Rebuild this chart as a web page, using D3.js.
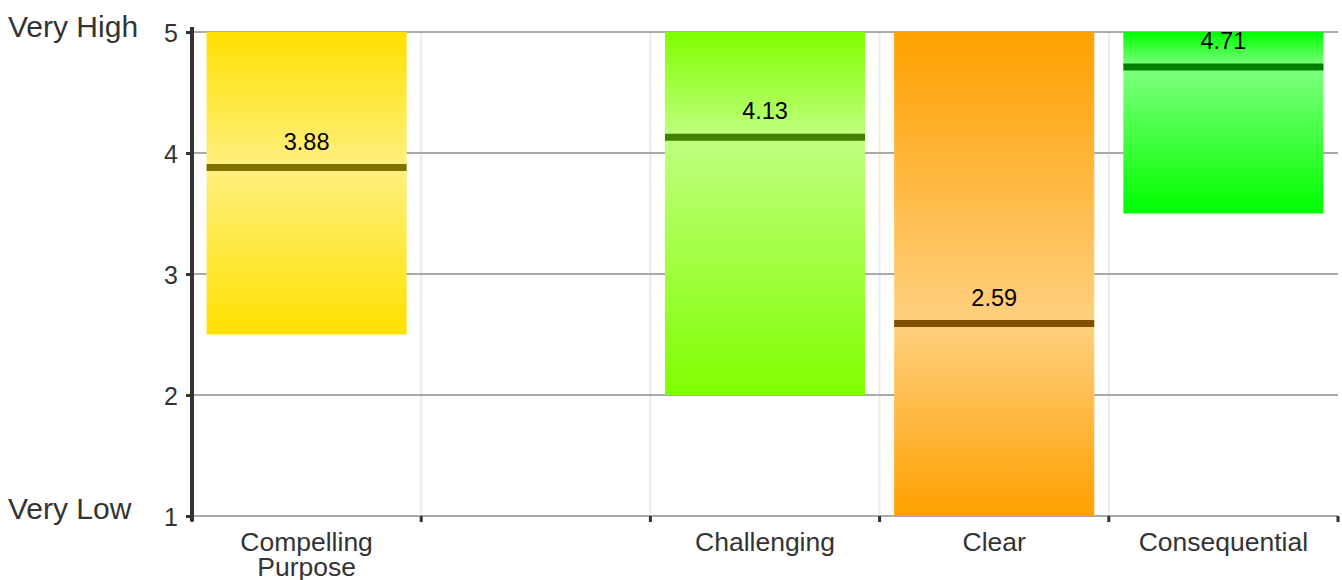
<!DOCTYPE html>
<html><head><meta charset="utf-8">
<script src="https://cdn.jsdelivr.net/npm/d3@7"></script>
<style>body{margin:0;background:#fff;}svg{display:block;font-family:"Liberation Sans",Arial,sans-serif;}</style>
</head><body><svg id="c" width="1342" height="580"></svg>
<script>
const categories = ["Compelling Purpose", "", "Challenging", "Clear", "Consequential"];
const lowValues = [2.5, null, 2, 1, 3.5];
const highValues = [5, null, 5, 5, 5];
const medianValues = [3.88, null, 4.13, 2.59, 4.71];
const barColors = ["#FFE000", null, "#80FF00", "#FFA000", "#00FF00"];
const yTicks = [1, 2, 3, 4, 5];
const yEndLabels = ["Very Low", "Very High"];

(function() {
const svg = d3.select("#c");
const pL = 192, pR = 1338, pT = 32, pB = 516;
const x = d3.scaleBand().domain(categories).range([pL, pR]).paddingInner(0).paddingOuter(0);
const y = d3.scaleLinear().domain([1, 5]).range([pB, pT]);
const barW = x.bandwidth() * 0.873;

const defs = svg.append("defs");
const data = categories.map((c, i) => ({c, i, lo: lowValues[i], hi: highValues[i], med: medianValues[i], col: barColors[i]}))
  .filter(d => d.lo != null);

const bounds = categories.map(c => x(c)).concat([pR]);
svg.append("g").selectAll("line").data(bounds.slice(1, -1)).join("line")
  .attr("x1", d => d).attr("x2", d => d).attr("y1", pT).attr("y2", pB)
  .attr("stroke", "#ebebeb").attr("stroke-width", 2);

svg.append("g").selectAll("line").data(yTicks).join("line")
  .attr("x1", pL).attr("x2", pR).attr("y1", d => y(d)).attr("y2", d => y(d))
  .attr("stroke", "#aaaaaa").attr("stroke-width", 2);

data.forEach(d => {
  const g = defs.append("linearGradient").attr("id", "g" + d.i).attr("x1", 0).attr("x2", 0).attr("y1", 0).attr("y2", 1);
  const light = d3.interpolateRgb(d.col, "#ffffff")(0.5);
  const off = (d.hi - d.med) / (d.hi - d.lo);
  g.append("stop").attr("offset", 0).attr("stop-color", d.col);
  g.append("stop").attr("offset", off).attr("stop-color", light);
  g.append("stop").attr("offset", 1).attr("stop-color", d.col);
});

const gb = svg.append("g");
gb.selectAll("rect").data(data).join("rect")
  .attr("x", d => x(d.c) + (x.bandwidth() - barW) / 2)
  .attr("width", barW)
  .attr("y", d => y(d.hi))
  .attr("height", d => y(d.lo) - y(d.hi))
  .attr("fill", d => `url(#g${d.i})`);

gb.selectAll("line.med").data(data).join("line").attr("class", "med")
  .attr("x1", d => x(d.c) + (x.bandwidth() - barW) / 2)
  .attr("x2", d => x(d.c) + (x.bandwidth() + barW) / 2)
  .attr("y1", d => y(d.med)).attr("y2", d => y(d.med))
  .attr("stroke", d => d3.interpolateRgb(d.col, "#000000")(0.5)).attr("stroke-width", 7);

gb.selectAll("text").data(data).join("text")
  .attr("x", d => x(d.c) + x.bandwidth() / 2)
  .attr("y", d => y(d.med) - 18)
  .attr("text-anchor", "middle").attr("font-size", 23.5).attr("fill", "#000")
  .text(d => d.med.toFixed(2));

const yAxis = svg.append("g").attr("transform", `translate(${pL},0)`)
  .call(d3.axisLeft(y).tickValues(yTicks).tickFormat(d3.format("d")).tickSize(6).tickPadding(8));
yAxis.select(".domain").remove();
yAxis.selectAll(".tick line").attr("stroke", "#333").attr("stroke-width", 3);
yAxis.selectAll(".tick text").attr("font-size", 25).attr("fill", "#333").attr("font-family", "Liberation Sans, Arial, sans-serif").attr("dy", "0.36em");
svg.append("line").attr("x1", pL).attr("x2", pL).attr("y1", pT - 5).attr("y2", pB + 5)
  .attr("stroke", "#333").attr("stroke-width", 4);

svg.append("g").selectAll("line").data(bounds).join("line")
  .attr("x1", d => d).attr("x2", d => d).attr("y1", pB).attr("y2", pB + 6)
  .attr("stroke", "#333").attr("stroke-width", 3);

const xl = svg.append("g").selectAll("text").data(categories).join("text")
  .attr("x", d => x(d) + x.bandwidth() / 2)
  .attr("y", 551)
  .attr("text-anchor", "middle").attr("font-size", 26.5).attr("fill", "#333");
xl.each(function(d) {
  const words = d.split(" ");
  const t = d3.select(this);
  words.forEach((w, k) => t.append("tspan").attr("x", x(d) + x.bandwidth() / 2).attr("dy", k === 0 ? 0 : 25).text(w));
});

svg.append("text").attr("x", 8).attr("y", 37).attr("font-size", 30).attr("fill", "#333").text(yEndLabels[1]);
svg.append("text").attr("x", 8).attr("y", 519).attr("font-size", 30).attr("fill", "#333").text(yEndLabels[0]);
})();
</script></body></html>
